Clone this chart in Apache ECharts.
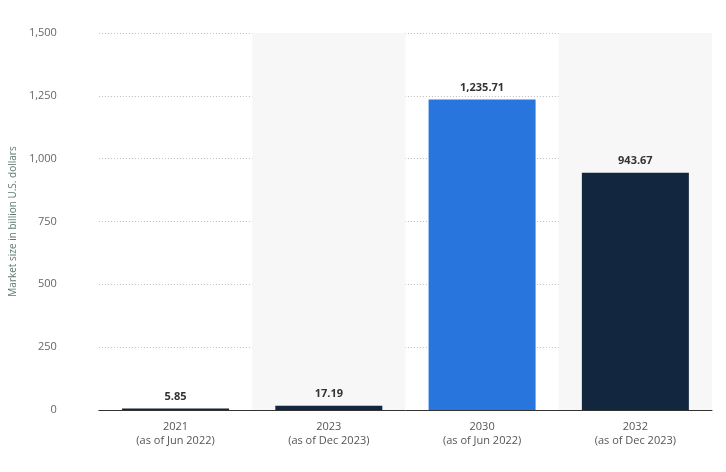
<!DOCTYPE html>
<html>
<head>
<meta charset="utf-8">
<script src="https://cdn.jsdelivr.net/npm/echarts@6/dist/echarts.min.js"></script>
<style>html,body{margin:0;padding:0;background:#fff}#chart{width:726px;height:472px}</style>
</head>
<body>
<div id="chart"></div>
<script>
var categories = ['2021\n(as of Jun 2022)', '2023\n(as of Dec 2023)', '2030\n(as of Jun 2022)', '2032\n(as of Dec 2023)'];
var values = [5.85, 17.19, 1235.71, 943.67];
var barColors = ['#12263f', '#12263f', '#2876dd', '#12263f'];

var chart = echarts.init(document.getElementById('chart'));
chart.setOption({
    animation: false,
    grid: { left: 90, right: 14, top: 33, bottom: 62 },
    xAxis: {
        type: 'category',
        data: categories,
        axisTick: { show: false },
        axisLine: { lineStyle: { color: '#333', width: 1 } },
        axisLabel: { color: '#555', fontSize: 11, fontFamily: 'Open Sans', lineHeight: 14, margin: 10 },
        splitArea: { show: true, areaStyle: { color: ['rgba(255,255,255,0)', '#f7f7f7'] } }
    },
    yAxis: {
        type: 'value',
        min: 0, max: 1500, interval: 250,
        name: 'Market size in billion U.S. dollars',
        nameLocation: 'middle',
        nameGap: 52,
        nameTextStyle: { color: '#5e7a6e', fontSize: 10, fontFamily: 'Open Sans' },
        axisLabel: {
            color: '#666', fontSize: 11, fontFamily: 'Open Sans', margin: 42, align: 'right',
            formatter: function (v) { return v.toLocaleString('en-US'); }
        },
        axisLine: { show: false },
        axisTick: { show: false },
        splitLine: { lineStyle: { color: '#bbb', type: [1, 2] } }
    },
    series: [{
        type: 'bar',
        barWidth: 107,
        data: values.map(function (v, i) { return { value: v, itemStyle: { color: barColors[i] } }; }),
        label: {
            show: true, position: 'top', distance: 6,
            color: '#333', fontSize: 11, fontWeight: 'bold', fontFamily: 'Open Sans',
            formatter: function (p) { return p.value.toLocaleString('en-US', { minimumFractionDigits: 2 }); }
        }
    }]
});
</script>
</body>
</html>
